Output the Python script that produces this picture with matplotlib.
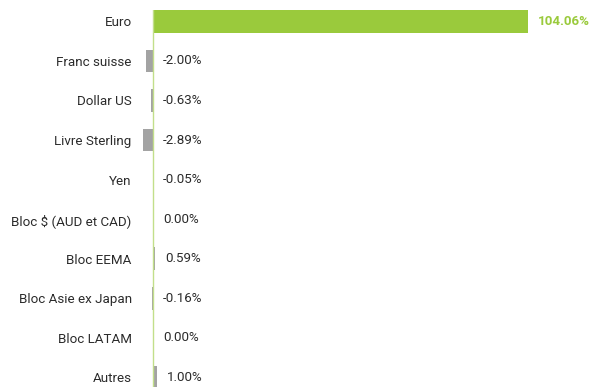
import matplotlib
matplotlib.use("Agg")
import matplotlib.pyplot as plt

# Exposition par devise (%)
categories = [
    "Euro", "Franc suisse", "Dollar US", "Livre Sterling", "Yen",
    "Bloc $ (AUD et CAD)", "Bloc EEMA", "Bloc Asie ex Japan", "Bloc LATAM", "Autres",
]
values = [104.06, -2.00, -0.63, -2.89, -0.05, 0.00, 0.59, -0.16, 0.00, 1.00]
labels = ["104.06%", "-2.00%", "-0.63%", "-2.89%", "-0.05%",
          "0.00%", "0.59%", "-0.16%", "0.00%", "1.00%"]

GREEN = "#9aca3c"
GREY = "#a3a3a3"
AXIS_GREEN = "#c2df8a"
TEXT = "#2b2b2b"
FS = 9.6

plt.rcParams["font.family"] = ["Roboto", "DejaVu Sans"]

fig = plt.figure(figsize=(6.05, 3.87), dpi=100)
# axes from x=140px to the right edge, y from bottom to 10px below top
ax = fig.add_axes([140 / 605, 0.0, 465 / 605, 1 - 10 / 387])

px_per_unit = 3.6
zero_px = 13
ax.set_xlim(-zero_px / px_per_unit, 465 / px_per_unit - zero_px / px_per_unit)
ax.set_ylim(9.25, -0.29)

ypos = list(range(len(categories)))
colors = [GREEN] + [GREY] * (len(values) - 1)
ax.barh(ypos, values, height=0.58, color=colors, zorder=2)
ax.axvline(0, color=AXIS_GREEN, linewidth=1.0, zorder=3)

pad = 10 / px_per_unit
for y, v, lab in zip(ypos, values, labels):
    x = max(v, 0) + pad
    if y == 0:
        ax.text(x, y, lab, va="center", ha="left", fontsize=FS,
                fontweight="bold", color=GREEN)
    else:
        ax.text(x, y, lab, va="center", ha="left", fontsize=FS, color=TEXT)

ax.set_yticks(ypos)
ax.set_yticklabels(categories, fontsize=FS, color=TEXT)
ax.tick_params(axis="y", length=0, pad=6)
ax.set_xticks([])
for s in ax.spines.values():
    s.set_visible(False)

fig.savefig("out.png", dpi=100)
